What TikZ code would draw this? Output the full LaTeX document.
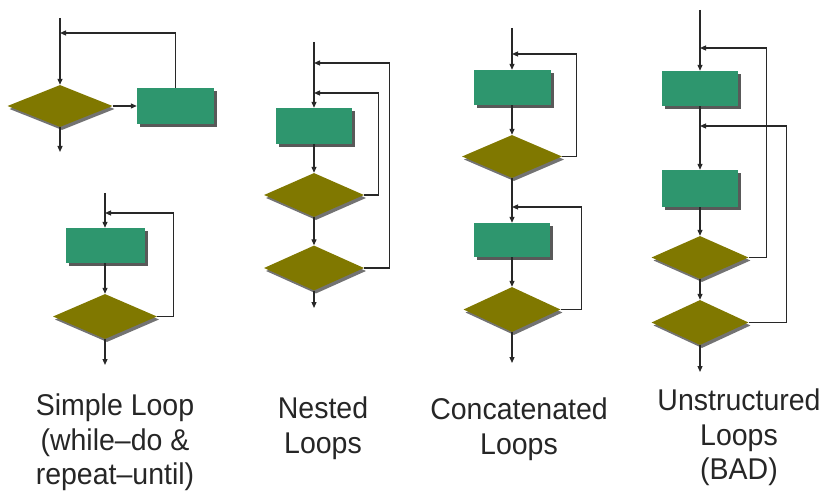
\documentclass[tikz,border=0pt]{standalone}
\usepackage{fontspec}
\newfontfamily\labelfont[Ligatures=TeX, FakeStretch=0.95]{Liberation Sans}
\usetikzlibrary{shapes.geometric,shadows,arrows.meta}
\definecolor{boxgreen}{RGB}{46,150,110}
\definecolor{diamolive}{RGB}{128,120,0}
\definecolor{linegray}{RGB}{40,40,40}
\tikzset{
  procbox/.style={rectangle, fill=boxgreen, inner sep=0pt, minimum width=77pt, minimum height=36pt,
    drop shadow={shadow xshift=3pt, shadow yshift=-3pt, fill=black, opacity=0.65}},
  decision/.style={diamond, fill=diamolive, inner sep=0pt, minimum width=100pt, minimum height=44pt,
    drop shadow={shadow xshift=2pt, shadow yshift=-3pt, fill=black, opacity=0.55}},
  flow/.style={draw=linegray, line width=1.2pt, -{Triangle[length=6pt,width=5pt]}},
  caption/.style={anchor=north, align=center, inner sep=0pt, text=black!85,
    font=\labelfont\fontsize{30}{34.5}\selectfont}
}
\begin{document}
\begin{tikzpicture}[x=1pt, y=-1pt]
  \useasboundingbox (0,0) rectangle (826,494);
  % simple loops
  \begin{scope}
    \node[decision, minimum width=105pt, minimum height=42pt] (d1) at (60,106) {};
    \node[procbox] (b1) at (175.5,106) {};
    \coordinate (in1) at (60,18);
    \coordinate (j1) at (60,33);
    \coordinate (out1) at (60,152);
    \draw[flow] (in1) -- (d1.north);
    \draw[flow] (b1.north) |- (j1);
    \draw[flow] (d1.east) -- (b1.west);
    \draw[flow] (d1.south) -- (out1);

    \node[procbox, minimum width=79pt, minimum height=35pt] (b2) at (105,245.5) {};
    \node[decision, minimum width=104pt, minimum height=45pt] (d2) at (105,316.5) {};
    \coordinate (in2) at (105,193);
    \coordinate (j2) at (105,213);
    \coordinate (out2) at (105,365);
    \draw[flow] (in2) -- (b2.north);
    \draw[flow] (b2.south) -- (d2.north);
    \draw[flow] (d2.east) -- ++(16,0) |- (j2);
    \draw[flow] (d2.south) -- (out2);
  \end{scope}
  % nested loops
  \begin{scope}
    \node[procbox, minimum width=76pt] (b3) at (314,126) {};
    \node[decision] (d3a) at (314,195) {};
    \node[decision, minimum height=45pt] (d3b) at (314,268) {};
    \coordinate (in3) at (314,42);
    \coordinate (j3a) at (314,93);
    \coordinate (j3b) at (314,63);
    \coordinate (out3) at (314,308);
    \draw[flow] (in3) -- (b3.north);
    \draw[flow] (b3.south) -- (d3a.north);
    \draw[flow] (d3a.south) -- (d3b.north);
    \draw[flow] (d3b.south) -- (out3);
    \draw[flow] (d3a.east) -- ++(14,0) |- (j3a);
    \draw[flow] (d3b.east) -- ++(25,0) |- (j3b);
  \end{scope}
  % concatenated loops
  \begin{scope}
    \node[procbox, minimum height=35pt] (b4a) at (512,87.5) {};
    \node[decision, minimum height=43pt] (d4a) at (512,156.5) {};
    \node[procbox, minimum width=76pt, minimum height=34pt] (b4b) at (512,240) {};
    \node[decision, minimum width=97pt, minimum height=45pt] (d4b) at (512,309.5) {};
    \coordinate (in4) at (512,28);
    \coordinate (j4a) at (512,54);
    \coordinate (j4b) at (512,207);
    \coordinate (out4) at (512,363);
    \draw[flow] (in4) -- (b4a.north);
    \draw[flow] (b4a.south) -- (d4a.north);
    \draw[flow] (d4a.south) -- (b4b.north);
    \draw[flow] (b4b.south) -- (d4b.north);
    \draw[flow] (d4b.south) -- (out4);
    \draw[flow] (d4a.east) -- ++(14,0) |- (j4a);
    \draw[flow] (d4b.east) -- ++(20.5,0) |- (j4b);
  \end{scope}
  % unstructured loops
  \begin{scope}
    \node[procbox, minimum width=76pt, minimum height=35pt] (b5a) at (700,88.5) {};
    \node[procbox, minimum width=76pt, minimum height=37pt] (b5b) at (700,188.5) {};
    \node[decision, minimum width=97pt, minimum height=43pt] (d5a) at (700,257.5) {};
    \node[decision, minimum width=97pt, minimum height=45pt] (d5b) at (700,322.5) {};
    \coordinate (in5) at (700,10);
    \coordinate (j5a) at (700,48);
    \coordinate (j5b) at (700,126);
    \coordinate (out5) at (700,372);
    \draw[flow] (in5) -- (b5a.north);
    \draw[flow] (b5a.south) -- (b5b.north);
    \draw[flow] (b5b.south) -- (d5a.north);
    \draw[flow] (d5a.south) -- (d5b.north);
    \draw[flow] (d5b.south) -- (out5);
    \draw[flow] (d5a.east) -- ++(17.5,0) |- (j5a);
    \draw[flow] (d5b.east) -- ++(37.5,0) |- (j5b);
  \end{scope}
  % captions
  \node[caption] (lsimple) at (115,394) {Simple Loop\\(while–do \&\\repeat–until)};
  \node[caption] (lnested) at (323,397) {Nested\\Loops};
  \node[caption] (lconcat) at (519,398) {Concatenated\\Loops};
  \node[caption] (lunstr) at (739,389) {Unstructured\\Loops\\(BAD)};
\end{tikzpicture}
\end{document}
